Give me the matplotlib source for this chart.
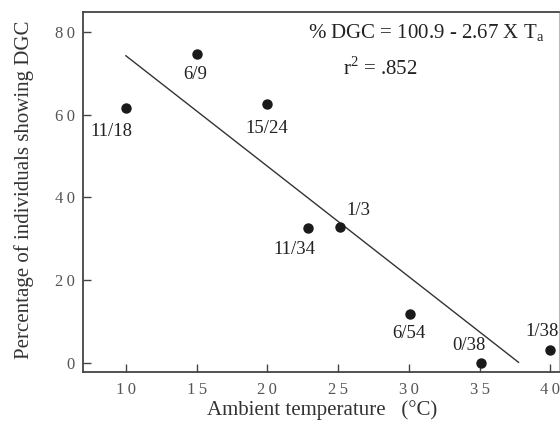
import matplotlib
matplotlib.use("Agg")
import matplotlib.pyplot as plt

plt.rcParams['font.family'] = ['Liberation Serif', 'DejaVu Serif']
plt.rcParams['mathtext.fontset'] = 'custom'
plt.rcParams['mathtext.rm'] = 'Liberation Serif'

# DGC occurrence vs ambient temperature
temps = [10, 15, 20, 22.9, 25.1, 30.1, 35.1, 40]
pct_dgc = [61.5, 74.7, 62.5, 32.5, 32.8, 11.8, 0.0, 3.0]
counts = ["11/18", "6/9", "15/24", "11/34", "1/3", "6/54", "0/38", "1/38"]
label_offsets = [(-14, -23), (-1, -21), (-1, -24), (-14, -21),
                 (19, 17), (-1, -20), (-12, 17), (-8, 19)]

# regression fit
intercept, slope = 100.9, -2.67
fit_x = [10, 37.75]

xticks = [10, 15, 20, 25, 30, 35, 40]
yticks = [0, 20, 40, 60, 80]


def spaced(v):
    # digits of the tick labels are set a little apart
    return "\u2009".join(str(v))


fig = plt.figure(figsize=(5.6, 4.25), dpi=100)
ax = fig.add_axes([0.149, 0.125, 0.849, 0.847])

ax.plot(fit_x, [intercept + slope * x for x in fit_x], color='#333333', lw=1.0)
ax.plot(temps, pct_dgc, 'o', color='#1a1a1a', ms=6.5)

for x, y, txt, (dx, dy) in zip(temps, pct_dgc, counts, label_offsets):
    ax.annotate(txt, (x, y), xytext=(dx, dy), textcoords='offset pixels',
                ha='center', va='center', fontsize=13.5, color='#222222')

ax.set_xlim(7.0, 40.6)
ax.set_ylim(-2.2, 84.8)
ax.set_xticks(xticks)
ax.set_xticklabels([spaced(v) for v in xticks])
ax.set_yticks(yticks)
ax.set_yticklabels([spaced(v) for v in yticks])
ax.tick_params(direction='in', length=6, width=1, color='#444444',
               labelcolor='#555555', labelsize=12)
ax.tick_params(axis='x', pad=7)
ax.tick_params(axis='y', pad=6)

for side in ['left', 'bottom', 'top']:
    ax.spines[side].set_color('#444444')
    ax.spines[side].set_linewidth(1.3)
ax.spines['right'].set_color('#bbbbbb')
ax.spines['right'].set_linewidth(0.8)

ax.set_xlabel("Ambient temperature   (\u00b0C)", fontsize=15, color='#333333')
ax.set_ylabel("Percentage of individuals showing DGC", fontsize=15, color='#333333')
ax.xaxis.set_label_coords(0.503, -0.078)
ax.yaxis.set_label_coords(-0.103, 0.506)

fig.text(308 / 560, 1 - 33 / 425, r"% DGC = 100.9 - 2.67 X T$_\mathrm{a}$",
         fontsize=15, color='#222222', va='center', ha='left')
fig.text(343 / 560, 1 - 68 / 425, r"r$^2$ = .852", fontsize=15, color='#222222',
         va='center', ha='left')

fig.savefig("out.png", dpi=100)
